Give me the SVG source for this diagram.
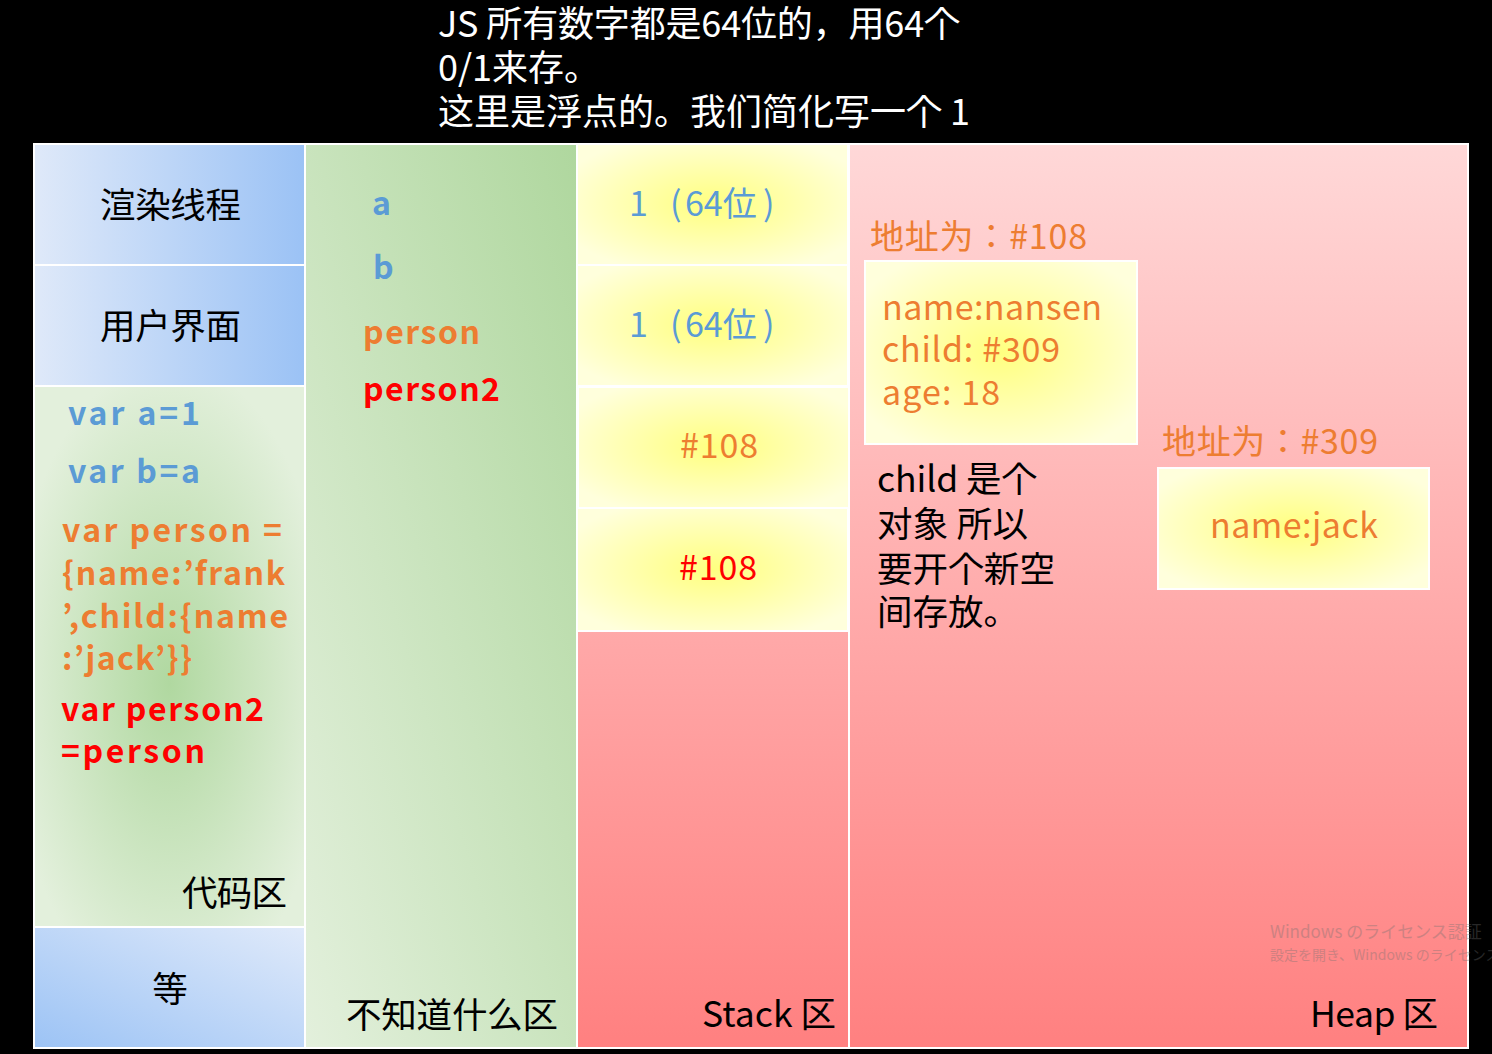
<svg xmlns="http://www.w3.org/2000/svg" width="1492" height="1054" viewBox="0 0 1492 1054">
<style>
text{font-family:"Noto Sans CJK JP","Noto Sans CJK SC","Noto Sans",sans-serif}
.cell{stroke:#fff;stroke-width:2}
.wt{fill:#fff;font-size:36px}
.k{fill:#000;font-size:35.5px}
.blue{fill:#5b9bd5}
.orange{fill:#ed7d31}
.red{fill:#ff0000}
.code{font-size:32px;font-weight:bold}
.val{font-size:34px}
.wm{fill:#707070;opacity:0.35}
</style>
<defs>
<linearGradient id="gBlueH" x1="0" y1="0" x2="1" y2="0">
<stop offset="0" stop-color="#dfe9f9"/><stop offset="1" stop-color="#9bc2f5"/>
</linearGradient>
<linearGradient id="gBlueD" x1="0" y1="1" x2="1" y2="0">
<stop offset="0" stop-color="#9cc3f5"/><stop offset="1" stop-color="#e0eafa"/>
</linearGradient>
<radialGradient id="gGreenR" cx="0.5" cy="0.55" r="0.6">
<stop offset="0" stop-color="#b0d8a0"/><stop offset="1" stop-color="#e3f0dc"/>
</radialGradient>
<linearGradient id="gGreenD" x1="0" y1="1" x2="1" y2="0">
<stop offset="0" stop-color="#e3f0dc"/><stop offset="1" stop-color="#afd79e"/>
</linearGradient>
<radialGradient id="gYel" cx="0.5" cy="0.5" r="0.6">
<stop offset="0" stop-color="#ffff80"/><stop offset="1" stop-color="#ffffdc"/>
</radialGradient>
<linearGradient id="gStack" x1="0" y1="0" x2="0" y2="1">
<stop offset="0" stop-color="#ffa9a9"/><stop offset="1" stop-color="#ff8080"/>
</linearGradient>
<linearGradient id="gHeap" x1="0" y1="0" x2="0" y2="1">
<stop offset="0" stop-color="#ffd8d8"/><stop offset="1" stop-color="#ff8080"/>
</linearGradient>
</defs>
<rect x="0" y="0" width="1492" height="1054" fill="#000"/>

<g id="title">
<text class="wt" x="438" y="37" textLength="522" lengthAdjust="spacing">JS 所有数字都是64位的，用64个</text>
<text class="wt" x="438" y="81">0/1来存。</text>
<text class="wt" x="438" y="125" textLength="532" lengthAdjust="spacing">这里是浮点的。我们简化写一个 1</text>
</g>

<g id="render-thread">
<rect class="cell" x="34" y="144" width="271" height="121" fill="url(#gBlueH)"/>
<text class="k" x="100" y="218" textLength="141" lengthAdjust="spacing">渲染线程</text>
</g>
<g id="user-interface">
<rect class="cell" x="34" y="265" width="271" height="121" fill="url(#gBlueH)"/>
<text class="k" x="100" y="339" textLength="141" lengthAdjust="spacing">用户界面</text>
</g>
<g id="code-area">
<rect class="cell" x="34" y="386" width="271" height="541" fill="url(#gGreenR)"/>
<text class="code blue" x="68" y="425" textLength="132" lengthAdjust="spacing">var a=1</text>
<text class="code blue" x="68" y="483" textLength="132" lengthAdjust="spacing">var b=a</text>
<text class="code orange" x="62" y="542" textLength="220" lengthAdjust="spacing">var person =</text>
<text class="code orange" x="62" y="585" textLength="223" lengthAdjust="spacing">{name:’frank</text>
<text class="code orange" x="62" y="628" textLength="226" lengthAdjust="spacing">’,child:{name</text>
<text class="code orange" x="62" y="670" textLength="130" lengthAdjust="spacing">:’jack’}}</text>
<text class="code red" x="61" y="721" textLength="203" lengthAdjust="spacing">var person2</text>
<text class="code red" x="61" y="763" textLength="144" lengthAdjust="spacing">=person</text>
<text class="k" x="182" y="906" textLength="105" lengthAdjust="spacing">代码区</text>
</g>
<g id="etc">
<rect class="cell" x="34" y="927" width="271" height="121" fill="url(#gBlueD)"/>
<text class="k" x="170" y="1002" text-anchor="middle">等</text>
</g>

<g id="unknown-area">
<rect class="cell" x="305" y="144" width="272" height="904" fill="url(#gGreenD)"/>
<text class="code blue" x="372" y="215">a</text>
<text class="code blue" x="373" y="279">b</text>
<text class="code orange" x="363" y="344" textLength="117" lengthAdjust="spacing">person</text>
<text class="code red" x="363" y="401" textLength="137" lengthAdjust="spacing">person2</text>
<text class="k" x="346" y="1028" textLength="212" lengthAdjust="spacing">不知道什么区</text>
</g>

<g id="stack-area">
<rect class="cell" x="577" y="631" width="272" height="417" fill="url(#gStack)"/>
<text class="k" x="702" y="1027" textLength="134" lengthAdjust="spacing">Stack 区</text>
</g>
<g id="stack-a">
<rect class="cell" x="577" y="144" width="271" height="121" fill="url(#gYel)"/>
<text class="val blue" y="216"><tspan x="629">1</tspan><tspan x="670">(</tspan><tspan x="685">64位</tspan><tspan x="763">)</tspan></text>
</g>
<g id="stack-b">
<rect class="cell" x="577" y="265" width="271" height="121" fill="url(#gYel)"/>
<text class="val blue" y="337"><tspan x="629">1</tspan><tspan x="670">(</tspan><tspan x="685">64位</tspan><tspan x="763">)</tspan></text>
</g>
<g id="stack-person">
<rect class="cell" x="578" y="387" width="272" height="121" fill="url(#gYel)"/>
<text class="val orange" x="680" y="458" textLength="78" lengthAdjust="spacing">#108</text>
</g>
<g id="stack-person2">
<rect class="cell" x="577" y="508" width="271" height="123" fill="url(#gYel)"/>
<text class="val red" x="679" y="580" textLength="78" lengthAdjust="spacing">#108</text>
</g>

<g id="heap-area">
<rect class="cell" x="849" y="144" width="619" height="904" fill="url(#gHeap)"/>
<text class="k" x="1310" y="1027" textLength="128" lengthAdjust="spacing">Heap 区</text>
<text class="k" x="877" y="492" textLength="160" lengthAdjust="spacing">child 是个</text>
<text class="k" x="877" y="537" textLength="151" lengthAdjust="spacing">对象 所以</text>
<text class="k" x="877" y="582" textLength="178" lengthAdjust="spacing">要开个新空</text>
<text class="k" x="877" y="625">间存放。</text>
</g>
<g id="heap-108">
<text class="val orange" x="870" y="249" textLength="217" lengthAdjust="spacing">地址为：#108</text>
<rect class="cell" x="865" y="261" width="272" height="183" fill="url(#gYel)"/>
<text class="val orange" x="882" y="320" textLength="220" lengthAdjust="spacing">name:nansen</text>
<text class="val orange" x="882" y="362" textLength="178" lengthAdjust="spacing">child: #309</text>
<text class="val orange" x="882" y="405" textLength="118" lengthAdjust="spacing">age: 18</text>
</g>
<g id="heap-309">
<text class="val orange" x="1162" y="454" textLength="216" lengthAdjust="spacing">地址为：#309</text>
<rect class="cell" x="1158" y="468" width="271" height="121" fill="url(#gYel)"/>
<text class="val orange" x="1210" y="538" textLength="168" lengthAdjust="spacing">name:jack</text>
</g>

<g id="watermark">
<text class="wm" x="1270" y="938" font-size="17">Windows のライセンス認証</text>
<text class="wm" x="1270" y="960" font-size="14">設定を開き、Windows のライセンス認</text>
</g>
<g id="connectors"/>
</svg>
